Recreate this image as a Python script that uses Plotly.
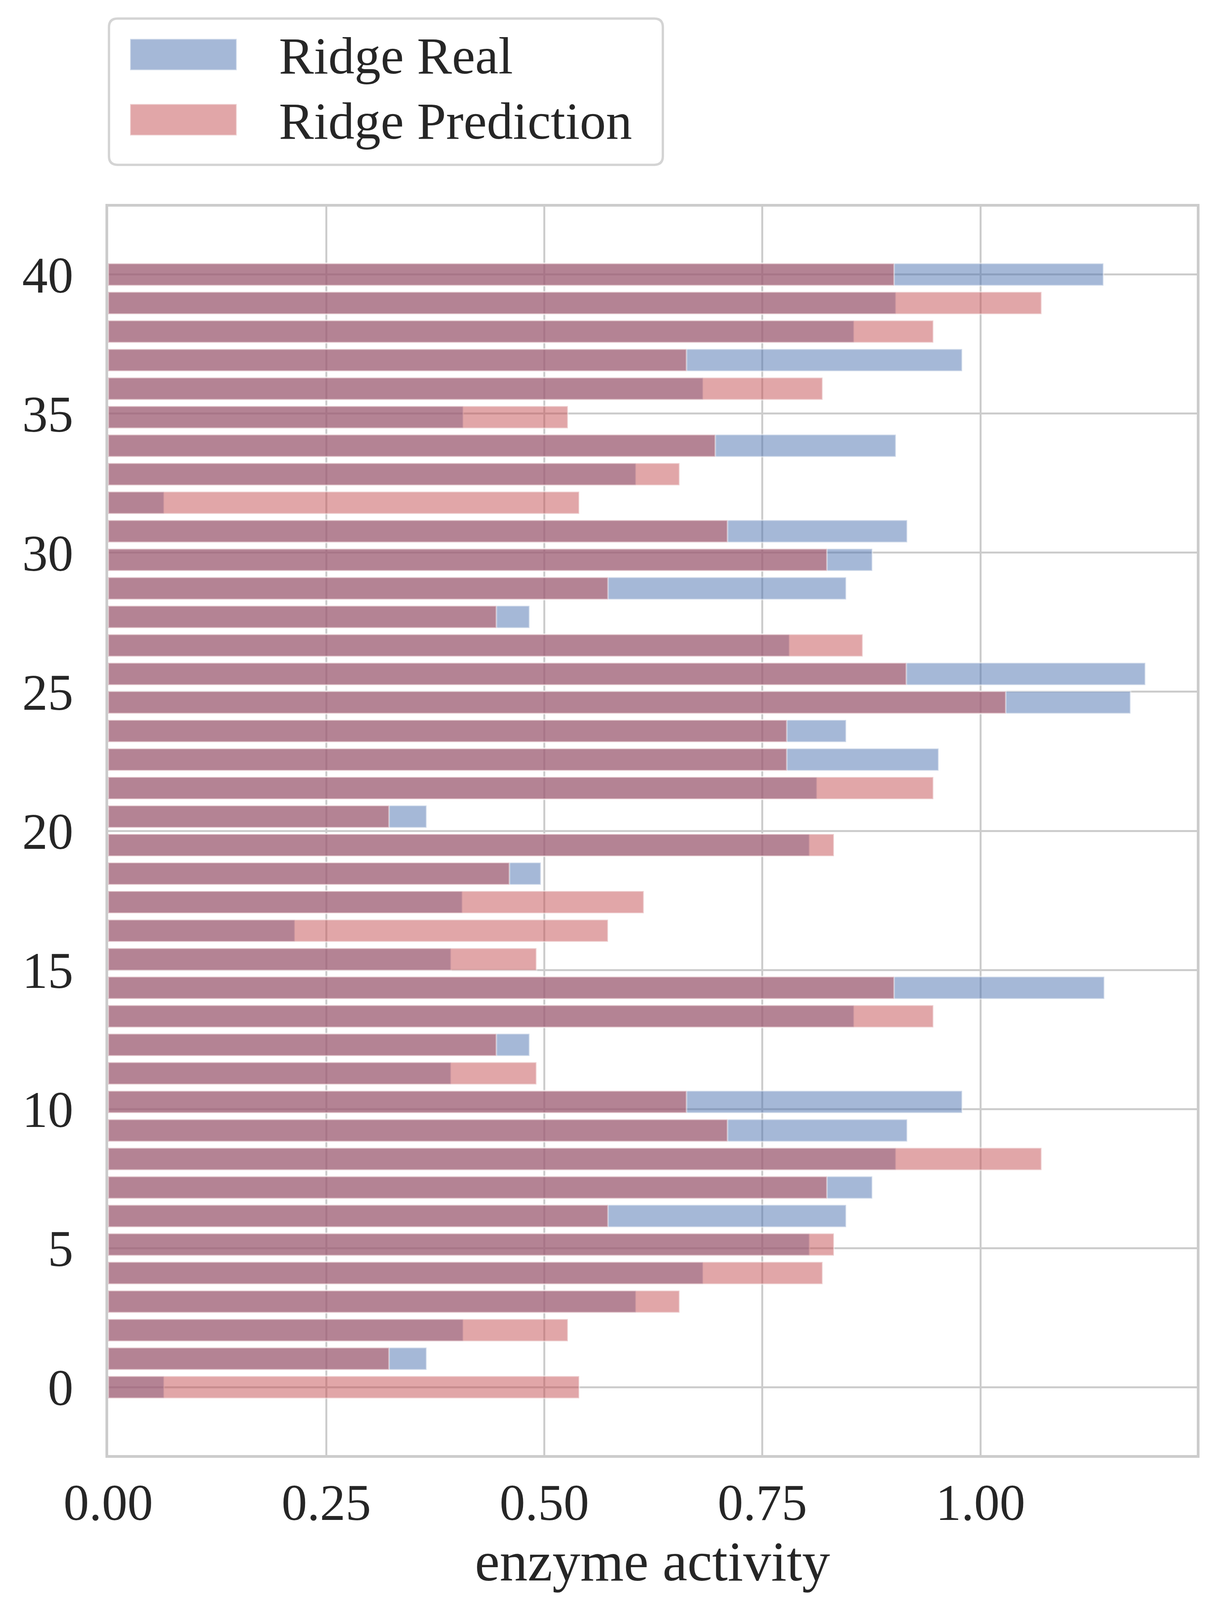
import numpy as np
import plotly.graph_objects as go

# valores, de abajo (y=0) hacia arriba (y=40)
real = [0.064, 0.365, 0.407, 0.605, 0.682, 0.804, 0.846, 0.876, 0.903, 0.916,
        0.979, 0.393, 0.483, 0.855, 1.142, 0.393, 0.214, 0.406, 0.496, 0.804,
        0.365, 0.8125, 0.952, 0.846, 1.172, 1.189, 0.781, 0.483, 0.846, 0.876,
        0.916, 0.064, 0.605, 0.903, 0.407, 0.682, 0.979, 0.855, 0.903, 1.141]
pred = [0.540, 0.322, 0.527, 0.655, 0.819, 0.832, 0.573, 0.824, 1.070, 0.710,
        0.663, 0.491, 0.445, 0.946, 0.901, 0.491, 0.573, 0.614, 0.460, 0.832,
        0.322, 0.946, 0.778, 0.778, 1.029, 0.915, 0.865, 0.445, 0.573, 0.824,
        0.710, 0.540, 0.655, 0.696, 0.527, 0.819, 0.663, 0.946, 1.070, 0.901]
names = ["Ridge Real", "Ridge Prediction"]
x_title = "enzyme activity"

# posiciones de las barras (repartidas entre 0 y 40)
ypos = np.linspace(0, 40, len(real))

blue = "rgba(76,114,176,0.5)"
red = "rgba(196,78,82,0.5)"
edge = "rgba(255,255,255,0.45)"
fnt = "Liberation Serif"

# la ventana visible mide ~3126x4086, la figura la llena (sin width/height)
# las posiciones verticales del original se escalan por KY
KY = 4086 / 4742
OFF = 8  # margen del body
FW = 3126 - 2 * OFF
FH = 4086 - 2 * OFF
L = 277 - OFF
R = 3064 - OFF
T = round(614 * KY) - OFF
B = round(4311 * KY) - OFF


def px(x):
    return (x - OFF - L) / (R - L)


def py(y):
    return (B - (y * KY - OFF)) / (B - T)


fig = go.Figure()
fig.add_trace(go.Bar(y=ypos, x=real, orientation='h', width=0.8, name=names[0],
                     marker=dict(color=blue, line=dict(color=edge, width=4)),
                     showlegend=False))
fig.add_trace(go.Bar(y=ypos, x=pred, orientation='h', width=0.8, name=names[1],
                     marker=dict(color=red, line=dict(color=edge, width=4)),
                     showlegend=False))

# leyenda dibujada a mano (caja redondeada + muestras + texto)
x0, x1, y0, y1 = px(279), px(1697), py(57), py(490)
rx, ry = 22 / (R - L), 22 / (B - T)
box = (f"M{x0 + rx},{y0} L{x1 - rx},{y0} Q{x1},{y0} {x1},{y0 - ry} "
       f"L{x1},{y1 + ry} Q{x1},{y1} {x1 - rx},{y1} L{x0 + rx},{y1} "
       f"Q{x0},{y1} {x0},{y1 + ry} L{x0},{y0 - ry} Q{x0},{y0} {x0 + rx},{y0} Z")
shapes = [dict(type='path', xref='paper', yref='paper', path=box,
               fillcolor='rgba(255,255,255,0.8)', line=dict(color='#d4d4d4', width=6))]
annots = []
for i, (c, n) in enumerate(zip([blue, red], names)):
    top = 117 + i * 193
    shapes.append(dict(type='rect', xref='paper', yref='paper',
                       x0=px(333), x1=px(606), y0=py(top), y1=py(top + 93),
                       fillcolor=c, line=dict(color=edge, width=4)))
    annots.append(dict(xref='paper', yref='paper', x=px(712), y=py(top + 50),
                       xanchor='left', yanchor='middle', text=n, showarrow=False,
                       font=dict(family=fnt, size=134, color='#262626')))

fig.update_layout(
    autosize=True, barmode='overlay',
    margin=dict(l=L, r=FW - R, t=T, b=FH - B, pad=0),
    plot_bgcolor='white', paper_bgcolor='white',
    font=dict(family=fnt, size=131, color='#262626'),
    shapes=shapes, annotations=annots,
    xaxis=dict(range=[0, 1.248], tick0=0, dtick=0.25, tickformat='.2f',
               showgrid=True, gridcolor='#cccccc', gridwidth=5,
               showline=True, mirror=True, linecolor='#cccccc', linewidth=7,
               ticks='', ticklabelstandoff=2,
               zeroline=False,
               title=dict(text=x_title, font=dict(size=143), standoff=12)),
    yaxis=dict(range=[-2.44, 42.44], tick0=0, dtick=5,
               showgrid=True, gridcolor='#cccccc', gridwidth=5,
               showline=True, mirror=True, linecolor='#cccccc', linewidth=7,
               ticks='outside', ticklen=56, tickcolor='rgba(0,0,0,0)',
               zeroline=False),
)

fig.write_html("out.html")
